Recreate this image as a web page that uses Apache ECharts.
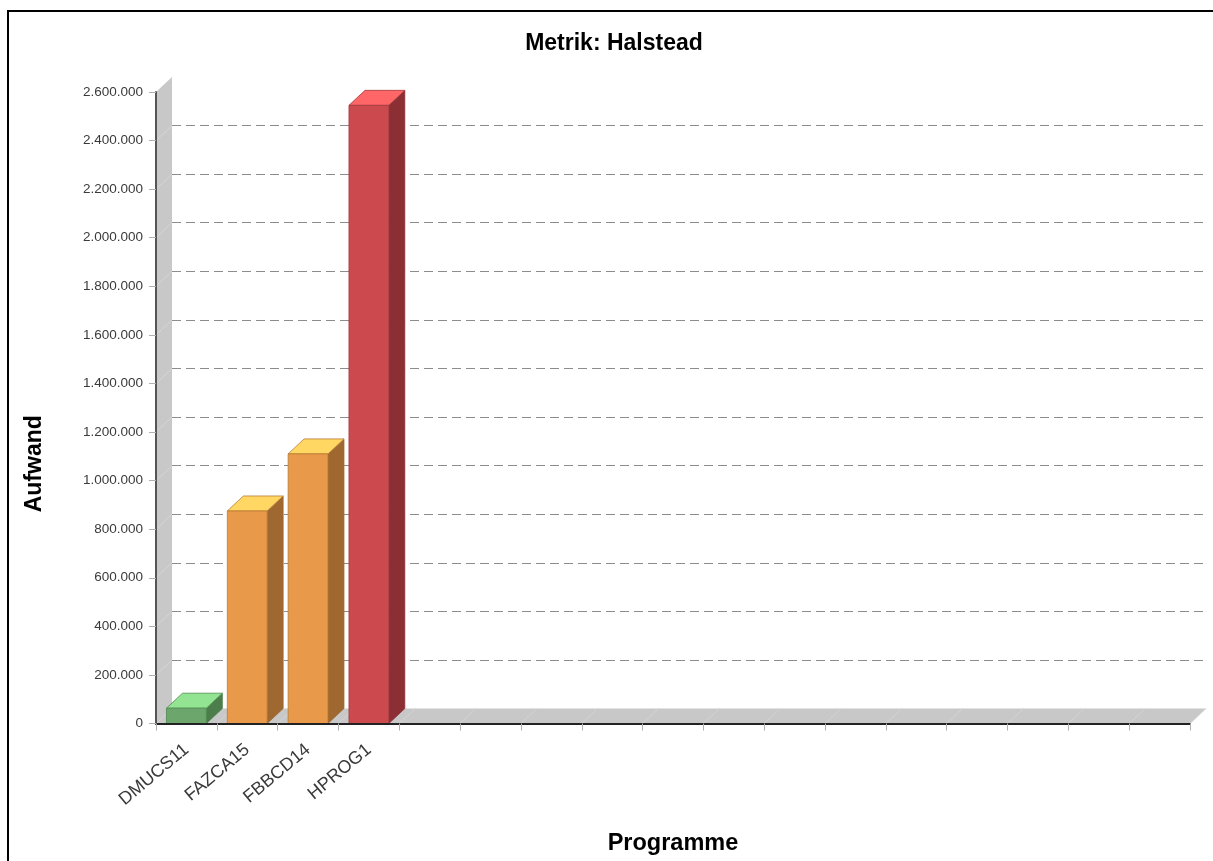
<!DOCTYPE html>
<html>
<head>
<meta charset="utf-8">
<script src="https://cdn.jsdelivr.net/npm/echarts@6/dist/echarts.min.js"></script>
<style>
  html, body { margin: 0; padding: 0; background: #fff; }
  #chart { width: 1213px; height: 861px; }
</style>
</head>
<body>
<div id="chart"></div>
<script>
// ---- data ----
const titleText = 'Metrik: Halstead';
const xAxisName = 'Programme';
const yAxisName = 'Aufwand';
const categories = ['DMUCS11', 'FAZCA15', 'FBBCD14', 'HPROG1'];
const emptySlotCount = 13;
const values = [63000, 875000, 1110000, 2545000];
const yMin = 0;
const yMax = 2600000;
const yStep = 200000;

// ---- style ----
const depthX = 16, depthY = 15;
const barRatio = 0.655;
const palette = [
  { front: '#6ca66c', top: '#92e392', side: '#4b7e4b', edge: '#4f8a4f' },
  { front: '#e8994a', top: '#ffd762', side: '#9f6830', edge: '#b97a35' },
  { front: '#e8994a', top: '#ffd762', side: '#9f6830', edge: '#b97a35' },
  { front: '#cc4a4d', top: '#ff6668', side: '#8b2f34', edge: '#a33a3d' }
];
const font = "'Liberation Sans', Arial, sans-serif";

const axisCats = categories.concat(new Array(emptySlotCount).fill(''));
const fmt = v => String(v).replace(/\B(?=(\d{3})+(?!\d))/g, '.');

const chart = echarts.init(document.getElementById('chart'), null, { renderer: 'canvas' });

const gridFront = { left: 156, top: 92, width: 1034, height: 631.5 };
const gridBack = { left: 156 + depthX, top: 92 - depthY, width: 1034, height: 631.5 };

function renderFrame(params, api) {
  const cs = params.coordSys;
  const x0 = cs.x, y0 = cs.y, x1 = cs.x + cs.width, y1 = cs.y + cs.height;
  const children = [];
  children.push({ type: 'polygon', shape: { points: [[x0, y0], [x0 + depthX, y0 - depthY], [x0 + depthX, y1 - depthY], [x0, y1]] },
    style: { fill: '#c8c8c8' } });
  children.push({ type: 'polygon', shape: { points: [[x0, y1], [x0 + depthX, y1 - depthY], [x1 + depthX, y1 - depthY], [x1, y1]] },
    style: { fill: '#c8c8c8' } });
  for (let v = yMin + yStep; v <= yMax - yStep; v += yStep) {
    const p = api.coord([0, v]);
    children.push({ type: 'line', shape: { x1: x0, y1: p[1], x2: x0 + depthX, y2: p[1] - depthY },
      style: { stroke: '#d6d6d6', lineWidth: 1 } });
  }
  const slot = cs.width / axisCats.length;
  for (let k = 1; k <= axisCats.length; k++) {
    const x = x0 + k * slot;
    children.push({ type: 'line', shape: { x1: x, y1: y1, x2: x + depthX, y2: y1 - depthY },
      style: { stroke: '#d4d4d4', lineWidth: 1 } });
  }
  return { type: 'group', children };
}

function renderBar(params, api) {
  const idx = api.value(0);
  const top = api.coord([idx, api.value(1)]);
  const base = api.coord([idx, 0]);
  const w = api.size([1, 0])[0] * barRatio;
  const c = palette[params.dataIndex % palette.length];
  const xl = top[0] - w / 2, xr = top[0] + w / 2;
  const yt = top[1], yb = base[1];
  return {
    type: 'group',
    children: [
      { type: 'polygon', shape: { points: [[xr, yt], [xr + depthX, yt - depthY], [xr + depthX, yb - depthY], [xr, yb]] },
        style: { fill: c.side, stroke: c.side, lineWidth: 0.8 } },
      { type: 'polygon', shape: { points: [[xl, yt], [xl + depthX, yt - depthY], [xr + depthX, yt - depthY], [xr, yt]] },
        style: { fill: c.top, stroke: c.edge, lineWidth: 0.8 } },
      { type: 'rect', shape: { x: xl, y: yt, width: w, height: yb - yt },
        style: { fill: c.front, stroke: c.edge, lineWidth: 0.8 } }
    ]
  };
}

const option = {
  backgroundColor: '#ffffff',
  animation: false,
  title: {
    text: titleText,
    left: 609,
    top: 27,
    textAlign: 'center',
    textStyle: { fontFamily: font, fontSize: 23, fontWeight: 'bold', color: '#000' }
  },
  graphic: [{
    type: 'rect', z: 100, silent: true,
    shape: { x: 8, y: 11, width: 1220, height: 900 },
    style: { fill: 'none', stroke: '#000', lineWidth: 2 }
  }],
  grid: [
    Object.assign({ containLabel: false }, gridFront),
    Object.assign({ containLabel: false }, gridBack)
  ],
  xAxis: [{
    type: 'category', gridIndex: 0, data: axisCats, boundaryGap: true, z: 5,
    name: xAxisName, nameLocation: 'middle', nameGap: 108,
    nameTextStyle: { fontFamily: font, fontSize: 23.5, fontWeight: 'bold', color: '#000' },
    axisLine: { show: true, lineStyle: { color: '#222', width: 2 } },
    axisTick: { show: true, length: 7, alignWithLabel: false, interval: 0, lineStyle: { color: '#b0b0b0' } },
    axisLabel: { interval: 0, rotate: 40, margin: 24, fontFamily: font, fontSize: 18, color: '#3a3a3a' },
    splitLine: { show: false }
  }, {
    type: 'category', gridIndex: 1, data: axisCats, boundaryGap: true, show: false
  }],
  yAxis: [{
    type: 'value', gridIndex: 0, min: yMin, max: yMax, interval: yStep, z: 5,
    name: yAxisName, nameLocation: 'middle', nameGap: 110, nameRotate: 90,
    nameTextStyle: { fontFamily: font, fontSize: 23, fontWeight: 'bold', color: '#000', padding: [0, 112, 0, 0] },
    axisLine: { show: true, lineStyle: { color: '#555', width: 2 } },
    axisTick: { show: true, length: 7, lineStyle: { color: '#b0b0b0' } },
    axisLabel: { margin: 13, fontFamily: font, fontSize: 13.5, color: '#3a3a3a', formatter: fmt },
    splitLine: { show: false }
  }, {
    type: 'value', gridIndex: 1, min: yMin, max: yMax, interval: yStep,
    axisLine: { show: false }, axisTick: { show: false }, axisLabel: { show: false },
    splitLine: { show: true, showMinLine: false, showMaxLine: false, lineStyle: { color: '#8c8c8c', type: [9, 5], width: 1.2 } }
  }],
  series: [{
    type: 'custom', xAxisIndex: 0, yAxisIndex: 0, z: 1, silent: true,
    renderItem: renderFrame, data: [[0, 0]], clip: false
  }, {
    type: 'custom', xAxisIndex: 0, yAxisIndex: 0, z: 3,
    renderItem: renderBar, clip: false,
    data: values.map((v, i) => [i, v])
  }]
};
chart.setOption(option);
</script>
</body>
</html>
